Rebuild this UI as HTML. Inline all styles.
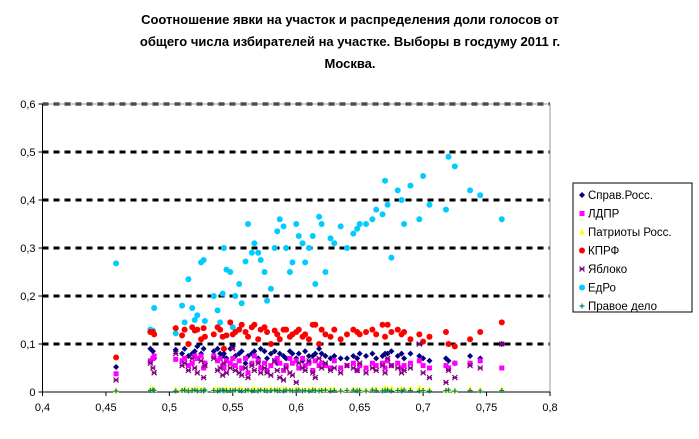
<!DOCTYPE html>
<html><head><meta charset="utf-8">
<style>
body{margin:0;background:#fff;width:699px;height:434px;overflow:hidden;font-family:"Liberation Sans",Arial,sans-serif}
</style></head>
<body>
<svg id="chart" width="699" height="434" xmlns="http://www.w3.org/2000/svg" font-family="Liberation Sans, Arial, sans-serif">
<g font-weight="bold" font-size="13" text-anchor="middle" fill="#000">
<text x="350" y="24">Соотношение явки на участок и распределения доли голосов от</text>
<text x="350" y="46">общего числа избирателей на участке. Выборы в госдуму 2011 г.</text>
<text x="350" y="68">Москва.</text>
</g>
<g id="grid"></g>
<g id="axes"></g>
<g id="marks"></g>
<g id="legend"></g>
</svg>
<script>
const xTicks=[0.4,0.45,0.5,0.55,0.6,0.65,0.7,0.75,0.8];
const xTickLabels=["0,4","0,45","0,5","0,55","0,6","0,65","0,7","0,75","0,8"];
const yTicks=[0,0.1,0.2,0.3,0.4,0.5,0.6];
const yTickLabels=["0","0,1","0,2","0,3","0,4","0,5","0,6"];
const seriesNames=["Справ.Росс.","ЛДПР","Патриоты Росс.","КПРФ","Яблоко","ЕдРо","Правое дело"];
const turnout=[.458,.485,.487,.488,.505,.51,.512,.515,.518,.52,.522,.525,.527,.528,.535,.538,.54,.542,.543,.545,.548,.55,.552,.555,.557,.56,.562,.565,.567,.57,.572,.575,.577,.58,.583,.585,.587,.59,.592,.595,.597,.6,.602,.605,.607,.61,.613,.615,.618,.62,.623,.627,.63,.635,.64,.645,.648,.65,.655,.66,.663,.668,.67,.672,.675,.68,.683,.685,.69,.697,.7,.705,.718,.72,.725,.737,.745,.762];
const edro=[.268,.13,.128,.175,.122,.18,.145,.235,.175,.15,.16,.27,.275,.148,.2,.17,.145,.205,.3,.255,.25,.135,.2,.225,.185,.272,.35,.29,.31,.29,.275,.25,.19,.215,.3,.335,.36,.345,.30,.25,.27,.35,.325,.31,.27,.30,.325,.225,.365,.35,.25,.32,.31,.345,.30,.33,.34,.35,.35,.36,.38,.37,.44,.39,.28,.42,.40,.35,.43,.36,.45,.39,.38,.49,.47,.42,.41,.36];
const kprf=[.072,.125,.125,.12,.133,.118,.13,.1,.135,.128,.13,.11,.133,.115,.12,.135,.13,.115,.09,.118,.145,.12,.125,.13,.14,.125,.115,.135,.14,.11,.13,.135,.125,.1,.128,.12,.11,.13,.13,.115,.12,.125,.13,.115,.12,.11,.14,.14,.1,.13,.12,.115,.13,.11,.12,.13,.125,.12,.125,.13,.12,.14,.115,.14,.125,.13,.12,.125,.11,.12,.105,.115,.125,.10,.095,.11,.125,.145];
const sr=[.052,.09,.085,.07,.088,.08,.09,.075,.08,.085,.095,.08,.09,.06,.085,.09,.08,.075,.08,.07,.09,.095,.075,.08,.085,.06,.075,.08,.085,.07,.09,.085,.07,.08,.085,.06,.08,.075,.07,.085,.08,.07,.08,.065,.085,.075,.075,.08,.09,.08,.075,.07,.075,.07,.07,.075,.07,.08,.075,.08,.07,.075,.08,.08,.085,.075,.08,.07,.08,.075,.07,.065,.07,.065,.06,.075,.07,.1];
const ldpr=[.038,.065,.07,.075,.068,.065,.07,.055,.06,.075,.07,.075,.05,.06,.075,.065,.07,.055,.05,.065,.06,.07,.055,.065,.05,.07,.04,.06,.075,.065,.05,.06,.045,.055,.065,.07,.06,.045,.055,.07,.06,.065,.05,.07,.055,.06,.045,.065,.055,.06,.055,.05,.065,.05,.055,.06,.045,.055,.05,.06,.055,.06,.05,.065,.055,.06,.05,.055,.06,.065,.055,.05,.055,.05,.06,.06,.065,.05];
const yabloko=[.025,.06,.05,.04,.08,.055,.06,.045,.07,.05,.04,.065,.03,.055,.07,.045,.05,.035,.06,.04,.05,.09,.045,.04,.035,.05,.03,.055,.045,.06,.04,.05,.04,.035,.065,.045,.03,.025,.05,.04,.035,.02,.06,.05,.045,.065,.04,.03,.07,.05,.06,.045,.05,.04,.055,.05,.045,.06,.04,.05,.045,.055,.04,.07,.055,.05,.04,.045,.05,.1,.04,.03,.02,.045,.03,.055,.05,.1];
const patriots=[.004,.006,.007,.005,.006,.004,.007,.005,.006,.004,.007,.005,.006,.004,.005,.007,.006,.004,.005,.007,.006,.005,.004,.007,.006,.005,.004,.006,.007,.005,.004,.006,.005,.007,.004,.006,.005,.007,.006,.004,.005,.007,.006,.005,.004,.006,.007,.005,.004,.006,.005,.007,.006,.004,.005,.006,.007,.005,.004,.006,.007,.005,.009,.006,.008,.005,.007,.006,.008,.009,.005,.006,.004,.005,.004,.007,.005,.006];
const pravoe=[.002,.003,.004,.003,.002,.003,.004,.002,.003,.004,.002,.003,.002,.004,.003,.002,.003,.004,.002,.003,.003,.002,.004,.003,.002,.003,.004,.002,.003,.002,.004,.003,.002,.003,.004,.002,.003,.002,.004,.003,.002,.003,.004,.002,.003,.002,.004,.003,.002,.003,.004,.002,.003,.002,.003,.004,.002,.003,.002,.004,.003,.002,.003,.004,.002,.003,.002,.004,.003,.002,.003,.002,.003,.004,.002,.003,.002,.003];

const NS="http://www.w3.org/2000/svg";
const L=42.5,R=550,T=104,B=392;
const xs=v=>L+(v-0.4)/0.4*(R-L);
const ys=v=>B-v/0.6*(B-T);
function mk(tag,at,parent){const e=document.createElementNS(NS,tag);for(const k in at)e.setAttribute(k,at[k]);parent.appendChild(e);return e;}
const grid=document.getElementById('grid'),axes=document.getElementById('axes'),marks=document.getElementById('marks'),legend=document.getElementById('legend');

yTicks.forEach((v,i)=>{
  if(v>0){const g=mk('line',{x1:L,x2:R,y1:ys(v),y2:ys(v),stroke:'#000','stroke-width':3,'stroke-dasharray':'6,5'},grid);
  
  }
  const tk=mk('line',{x1:L-4,x2:L,y1:ys(v),y2:ys(v),stroke:'#000'},axes);
  
  
  const t=mk('text',{x:L-7,y:ys(v)+4,'font-size':11,'text-anchor':'end',fill:'#000'},axes);
  t.textContent=yTickLabels[i];
  
  
});
xTicks.forEach((v,i)=>{
  const tk=mk('line',{x1:xs(v),x2:xs(v),y1:B,y2:B+4,stroke:'#000'},axes);
  
  
  const t=mk('text',{x:xs(v),y:B+19,'font-size':11,'text-anchor':'middle',fill:'#000'},axes);
  t.textContent=xTickLabels[i];
  
  
});
const frame=mk('path',{d:`M${L},${T}H${R}V${B}`,fill:'none',stroke:'#999'},axes);


const ax=mk('path',{d:`M${L},${T}V${B}H${R}`,fill:'none',stroke:'#000'},axes);



function marker(shape,color,x,y,p){
  let e;
  if(shape==='diamond')e=mk('path',{d:`M${x},${y-3}L${x+3},${y}L${x},${y+3}L${x-3},${y}Z`,fill:color},p);
  else if(shape==='square')e=mk('rect',{x:x-2.5,y:y-2.5,width:5,height:5,fill:color},p);
  else if(shape==='tri')e=mk('path',{d:`M${x},${y-3}L${x+3},${y+2.5}L${x-3},${y+2.5}Z`,fill:color},p);
  else if(shape==='circle')e=mk('circle',{cx:x,cy:y,r:3,fill:color},p);
  else if(shape==='star')e=mk('path',{d:`M${x-2.5},${y-2.5}L${x+2.5},${y+2.5}M${x+2.5},${y-2.5}L${x-2.5},${y+2.5}M${x-2.5},${y}H${x+2.5}`,stroke:color,'stroke-width':1.2,fill:'none'},p);
  else e=mk('path',{d:`M${x-2.5},${y}H${x+2.5}M${x},${y-2.5}V${y+2.5}`,stroke:color,'stroke-width':1.2},p);
  return e;
}
const series=[
 {vals:sr,shape:'diamond',color:'#000080',name:'series-sprav-ross'},
 {vals:ldpr,shape:'square',color:'#ff00ff',name:'series-ldpr'},
 {vals:patriots,shape:'tri',color:'#ffff00',name:'series-patrioty'},
 {vals:kprf,shape:'circle',color:'#ff0000',name:'series-kprf'},
 {vals:yabloko,shape:'star',color:'#800080',name:'series-yabloko'},
 {vals:edro,shape:'circle',color:'#00ccff',name:'series-edro'},
 {vals:pravoe,shape:'plus',color:'#008080',name:'series-pravoe-delo'}
];
const drawOrder=[5,3,0,1,4,2,6];
drawOrder.forEach(si=>{
  const s=series[si];
  const g=mk('g',{},marks);
  
  
  s.vals.forEach((v,i)=>{
    const m=marker(s.shape,s.color,xs(turnout[i]),ys(v),g);
    
    
  });
});

const lb=mk('rect',{x:573,y:183,width:119,height:129,fill:'#fff',stroke:'#000'},legend);


series.forEach((s,i)=>{
  const y=195+i*18.5;
  const g=mk('g',{},legend);
  
  
  marker(s.shape,s.color,582,y,g);
  const t=mk('text',{x:588,y:y+4,'font-size':11.5,fill:'#000'},g);
  t.textContent=seriesNames[i];
});
</script>
</body></html>
